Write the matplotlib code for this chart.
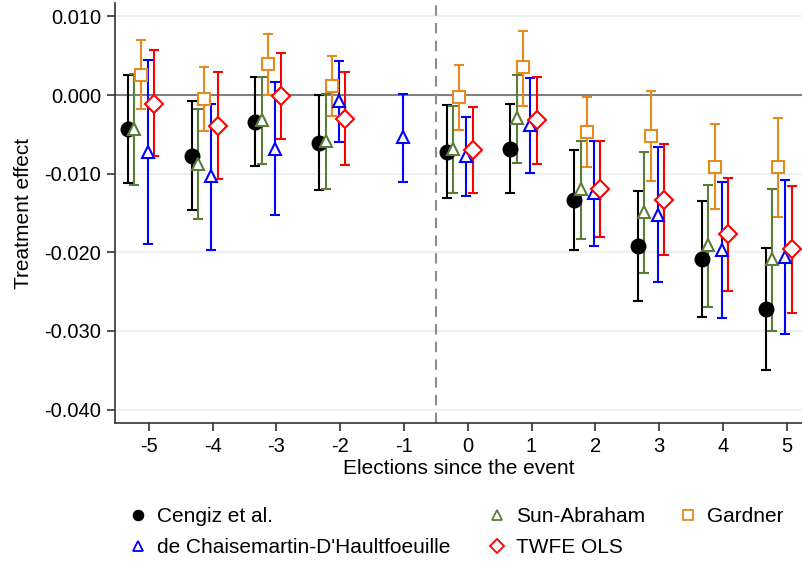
import numpy as np
import matplotlib
matplotlib.use("Agg")
import matplotlib.pyplot as plt
from matplotlib.lines import Line2D
from matplotlib.ticker import FuncFormatter

plt.rcParams['font.family'] = ['Liberation Sans', 'DejaVu Sans']
plt.rcParams['axes.unicode_minus'] = False

# elections since the event
events = [-5, -4, -3, -2, -1, 0, 1, 2, 3, 4, 5]
nan = np.nan

# point estimates and 95% CI bounds (x 0.001)
cengiz = [-4.3, -7.7, -3.4, -6.1, nan, -7.2, -6.8, -13.3, -19.2, -20.8, -27.2]
cengiz_hi = [2.5, -0.8, 2.3, 0.0, nan, -1.3, -1.2, -7.0, -12.2, -13.5, -19.4]
cengiz_lo = [-11.2, -14.6, -9.0, -12.1, nan, -13.1, -12.4, -19.7, -26.2, -28.2, -34.9]

sun_abraham = [-4.3, -8.8, -3.2, -5.8, nan, -6.9, -2.9, -12.0, -14.9, -19.1, -20.9]
sun_abraham_hi = [2.7, -1.8, 2.3, 0.1, nan, -1.4, 2.6, -5.8, -7.3, -11.4, -12.0]
sun_abraham_lo = [-11.4, -15.8, -8.8, -11.9, nan, -12.4, -8.6, -18.3, -22.6, -26.9, -30.0]

gardner = [2.5, -0.5, 3.9, 1.1, nan, -0.3, 3.5, -4.7, -5.2, -9.1, -9.2]
gardner_hi = [7.0, 3.6, 7.75, 5.0, nan, 3.8, 8.2, -0.2, 0.5, -3.7, -2.9]
gardner_lo = [-1.8, -4.6, 0.0, -2.7, nan, -4.4, -1.4, -9.1, -10.9, -14.5, -15.5]

dcdh = [-7.2, -10.3, -6.8, -0.8, -5.4, -7.7, -3.8, -12.4, -15.2, -19.7, -20.6]
dcdh_hi = [4.45, -1.1, 1.6, 4.3, 0.1, -2.8, 2.2, -5.8, -6.6, -11.05, -10.8]
dcdh_lo = [-18.9, -19.7, -15.2, -6.0, -11.05, -12.8, -9.9, -19.2, -23.8, -28.4, -30.4]

twfe = [-1.1, -3.9, -0.1, -3.0, nan, -7.0, -3.2, -11.9, -13.3, -17.7, -19.6]
twfe_hi = [5.7, 2.9, 5.4, 2.9, nan, -1.5, 2.3, -5.8, -6.2, -10.5, -11.6]
twfe_lo = [-7.75, -10.7, -5.6, -8.85, nan, -12.5, -8.8, -18.0, -20.3, -24.9, -27.7]

series = [
    ("Cengiz et al.", cengiz, cengiz_lo, cengiz_hi, -0.33, "black", "o", True, 10),
    ("Sun-Abraham", sun_abraham, sun_abraham_lo, sun_abraham_hi, -0.23, "#5a7d3a", "^", False, 9),
    ("Gardner", gardner, gardner_lo, gardner_hi, -0.13, "#e8891e", "s", False, 9),
    ("de Chaisemartin-D'Haultfoeuille", dcdh, dcdh_lo, dcdh_hi, -0.02, "#0000ff", "^", False, 9),
    ("TWFE OLS", twfe, twfe_lo, twfe_hi, 0.08, "#ff0000", "D", False, 9),
]

fig = plt.figure(figsize=(8.02, 5.64), dpi=100)
ax = fig.add_axes([115 / 802, 1 - 423 / 564, 1 - 115 / 802, 420 / 564])

ax.axhline(0, color="#808080", lw=1.5, zorder=1)
ax.axvline(-0.5, color="#8c8c8c", lw=1.5, ls=(0, (5, 3.5)), zorder=1)

handles = {}
for name, est, lo, hi, off, col, mk, filled, ms in series:
    x = np.array(events) + off
    y = np.array(est) / 1000
    err = [y - np.array(lo) / 1000, np.array(hi) / 1000 - y]
    ax.errorbar(x, y, yerr=err, fmt="none", ecolor=col, elinewidth=1.5,
                capsize=3.8, capthick=1.5, zorder=2)
    ax.plot(x, y, ls="none", marker=mk, ms=ms, mew=1.5, mec=col,
            mfc=col if filled else "white", zorder=3)
    handles[name] = Line2D([], [], ls="none", marker=mk, ms=7, mew=1.3, mec=col,
                           mfc=col if filled else "none")

ax.set_xlim(-5.53, 5.24)
ax.set_ylim(-0.0417, 0.0117)
ax.set_xticks(events)
ax.set_yticks([0.01, 0.0, -0.01, -0.02, -0.03, -0.04])
ax.yaxis.set_major_formatter(FuncFormatter(lambda v, p: "%.3f" % v if abs(v) > 1e-9 else "0.000"))
ax.grid(axis="y", color="#e6eef1", lw=1.2, zorder=0)
ax.set_axisbelow(True)

for s in ["top", "right"]:
    ax.spines[s].set_visible(False)
for s in ["left", "bottom"]:
    ax.spines[s].set_color("#333333")
    ax.spines[s].set_linewidth(1.2)
ax.tick_params(labelsize=14.5, length=6, width=1.2, color="#333333", pad=4)

ax.set_xlabel("Elections since the event", fontsize=15, labelpad=2)
ax.set_ylabel("Treatment effect", fontsize=15, labelpad=8)

# legend, three columns placed like the original
cols = [
    (["Cengiz et al.", "de Chaisemartin-D'Haultfoeuille"], 128),
    (["Sun-Abraham", "TWFE OLS"], 487),
    (["Gardner"], 678),
]
for names, xpix in cols:
    fig.legend([handles[n] for n in names], names, loc="upper left",
               bbox_to_anchor=(xpix / 802, 1 - 507 / 564), frameon=False,
               fontsize=15, handlelength=1.0, handletextpad=0.4,
               labelspacing=0.58, borderaxespad=0, borderpad=0)

fig.savefig("out.png", dpi=100)
